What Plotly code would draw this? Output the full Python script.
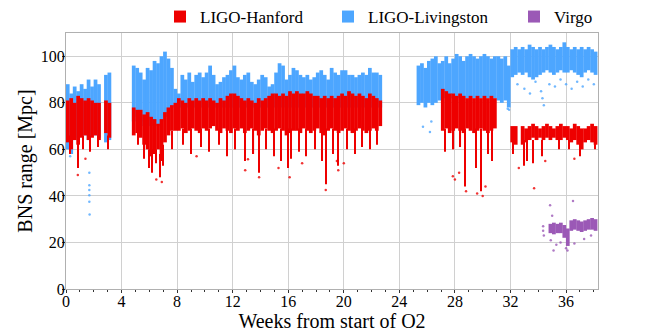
import plotly.graph_objects as go

# ---------------- data ----------------
# bins of 0.25 week; value = bin centre
N_BINS = 153
weeks = [0.125 + 0.25 * i for i in range(N_BINS)]
_ = None

hanford_high = (
    [81, 82, 80, 83, 82, 81, 82, 81, 80, 80] + [_] + [81, 80] + [_] * 6 +
    [78, 77, 77, 75, 76, 74, 73, 71, 73, 76, 78, 79, 80,
     82, 81, 80, 82, 81, 82, 81, 82, 81, 82, 81, 80, 82, 81, 83, 84, 84, 83, 82, 81,
     82, 81, 80, 82, 81, 82, 83, 84, 84, 83, 84, 83, 85, 84, 85, 84, 84, 85, 84, 83,
     83, 82, 83, 82, 83, 82, 83, 84, 83, 85, 84, 83, 84, 83, 82, 84, 83, 82, 81] +
    [_] * 17 +
    [86, 85, 84, 84, 83, 84, 83, 82, 83, 82, 83, 82, 83, 82, 83, 82] + [_] * 4 +
    [70, 70] + [_] +
    [70, 69, 70, 71, 70, 69, 70, 71, 70, 69, 70, 71, 70, 70, 69, 71, 70, 69, 69, 70, 71, 70]
)
hanford_low = (
    [63, 60, 64, 62, 65, 66, 64, 65, 66, 64] + [_] + [67, 65] + [_] * 6 +
    [66, 67, 65, 62, 60, 57, 58, 60, 55, 63, 66, 68, 68,
     68, 69, 67, 68, 69, 68, 67, 69, 68, 69, 70, 68, 67, 69, 68, 67, 69, 68, 69, 67,
     68, 69, 68, 66, 68, 69, 68, 67, 68, 69, 68, 66, 67, 68, 68, 67, 69, 68, 67, 68,
     69, 67, 66, 68, 69, 68, 67, 68, 69, 68, 67, 68, 69, 68, 67, 68, 69, 68, 70] +
    [_] * 17 +
    [68, 69, 67, 68, 69, 68, 67, 69, 68, 67, 68, 69, 68, 67, 68, 69] + [_] * 4 +
    [63, 62] + [_] +
    [62, 63, 64, 65, 64, 65, 64, 65, 64, 65, 64, 64, 65, 64, 63, 64, 62, 60, 63, 64, 63, 62]
)

livingston_high = (
    [88, 84, 87, 85, 88, 86, 90, 87, 90, 88] + [_] + [92, 93] + [_] * 6 +
    [96, 95, 93, 90, 95, 94, 98, 97, 100, 102, 99, 95, 86,
     84, 92, 90, 93, 89, 92, 93, 91, 93, 96, 92, 88, 89, 91, 92, 94, 96, 91, 90, 92,
     93, 89, 88, 90, 92, 91, 87, 88, 93, 97, 96, 90, 92, 95, 94, 92, 91, 92, 90, 91,
     93, 94, 92, 90, 95, 93, 92, 94, 94, 92, 92, 91, 92, 93, 92, 95, 93, 93, 92] +
    [_] * 10 +
    [96, 97, 95, 98, 99, 100, 97,
     98, 100, 97, 99, 101, 100, 98, 100, 101, 100, 99, 100, 101, 100, 99, 100,
     100, 99, 100, 96,
     103, 104, 103, 104, 103, 105, 104, 103, 104, 103, 104, 105, 104, 103, 104, 106,
     104, 103, 104, 103, 104, 103, 104, 103, 102]
)
livingston_low = (
    [60, 58, 64, 65, 66, 66, 64, 66, 66, 65] + [_] + [63, 64] + [_] * 6 +
    [72, 74, 72, 70, 72, 70, 72, 70, 72, 74, 76, 78, 79] + [78] * 59 +
    [_] * 10 +
    [79, 80, 78, 80, 79, 80, 81] + [82] * 16 + [81, 80, 81, 78] +
    [91, 92, 93, 92, 93, 91, 90, 91, 92, 93, 94, 93, 92, 93, 94, 93, 93, 94, 93, 92,
     91, 93, 94, 93, 92]
)

virgo_high = [_] * 139 + [28, 28.5, 28, 28.5, 27.5, 26, 29.5, 30, 29.5, 29, 29.5, 30, 30.5, 30]
virgo_low = [_] * 139 + [24, 23.5, 24, 24, 22, 18.5, 25, 25.5, 25, 24.5, 25, 25.5, 25.5, 25]

# thin vertical streaks of low range (week, lowest value, top of streak)
hanford_streak_week = [0.3, 0.85, 1.2, 1.7, 2.3, 3.0, 5.2, 5.6, 6.0, 6.2, 6.45, 6.8, 7.0, 7.6,
                       8.4, 9.0, 9.7, 10.3, 11.0, 11.6, 12.2, 12.9, 13.5, 13.9, 14.4, 15.0,
                       15.5, 16.0, 16.2, 16.8, 17.3, 17.9, 18.4, 18.7, 19.2, 19.6, 20.2, 20.8,
                       21.3, 21.9, 22.4, 27.3, 27.9, 28.4, 28.75, 29.5, 29.9, 30.4, 30.7,
                       32.2, 33.0, 33.2, 33.6, 34.3, 35.5, 36.2, 37.0, 38.1]
hanford_streak_low = [58, 52, 60, 59, 61, 60, 62, 56, 52, 50, 54, 48, 53, 60,
                      62, 58, 61, 59, 62, 57, 60, 55, 58, 50, 60, 57,
                      55, 52, 56, 59, 57, 60, 55, 45, 58, 53, 60, 58,
                      61, 60, 62, 59, 60, 61, 44, 52, 42, 58, 55,
                      58, 53, 55, 54, 57, 60, 60, 57, 60]
hanford_streak_top = [66, 66, 66, 66, 66, 66, 68, 64, 60, 60, 60, 58, 62, 68,
                      69, 69, 69, 69, 69, 69, 69, 69, 69, 69, 69, 69,
                      69, 69, 69, 69, 69, 69, 69, 69, 69, 69, 69, 69,
                      69, 69, 69, 69, 69, 69, 69, 69, 69, 69, 69,
                      64, 64, 64, 64, 64, 64, 64, 64, 64]

# isolated low points
hanford_out_week = [0.85, 1.4, 6.5, 6.9, 9.4, 12.9, 13.1, 13.9, 15.3, 16.1, 17.0, 18.7, 19.5,
                    19.6, 20.0, 27.85, 28.0, 28.3, 28.8, 29.6, 30.0, 30.2, 32.6, 33.7, 34.5,
                    36.6]
hanford_out_val = [49, 56, 47, 46, 57, 51, 55.8, 48, 52, 48, 54, 42.5, 55,
                   51, 54, 48.5, 47, 50, 42, 41, 40, 44, 52, 43.3, 55,
                   56]
livingston_out_week = [1.68, 1.68, 1.68, 1.68, 1.68, 1.7, 0.3, 25.7, 26.2, 26.3,
                       31.8, 31.9, 32.5, 33.0, 33.4, 33.8, 34.2, 34.3, 34.4, 34.8, 35.2,
                       35.6, 36.0, 36.4, 36.8, 37.2, 37.6, 38.0]
livingston_out_val = [50, 44.6, 42.5, 40.3, 37.5, 32, 57, 69.7, 67.5, 72,
                      77.5, 77, 88, 86, 84, 89, 85, 82, 79, 88, 87,
                      90, 88, 86, 89, 87, 90, 88]
virgo_out_week = [34.35, 34.35, 34.4, 34.9, 35.1, 35.3, 35.0, 35.6, 36.0, 36.1, 36.6, 37.3,
                  34.85, 36.5, 37.8]
virgo_out_val = [27, 25, 23, 21, 16.5, 19, 31.5, 20, 17.5, 16.5, 19.5, 21.5,
                 36, 37.8, 23]

# ---------------- styling ----------------
RED = "#ee0000"
BLUE = "#4da6ff"
PURPLE = "#9b59b6"
FONT = "Liberation Serif, Times New Roman, Times, serif"
BAR_W = 0.27


def span(lo, hi):
    return [None if (a is None or b is None) else b - a for a, b in zip(lo, hi)]


fig = go.Figure()


def add_band(name, lo, hi, color, legend):
    fig.add_trace(go.Bar(x=weeks, y=span(lo, hi), base=lo, width=BAR_W,
                         marker=dict(color=color, line=dict(width=0)),
                         name=name, legend=legend, hoverinfo="skip"))


def add_points(wk, val, color):
    fig.add_trace(go.Scatter(x=wk, y=val, mode="markers", showlegend=False,
                             marker=dict(color=color, size=2.5, opacity=0.8),
                             hoverinfo="skip"))


add_band("LIGO-Livingston", livingston_low, livingston_high, BLUE, "legend2")
add_points(livingston_out_week, livingston_out_val, BLUE)
add_band("LIGO-Hanford", hanford_low, hanford_high, RED, "legend")
fig.add_trace(go.Bar(x=hanford_streak_week, y=span(hanford_streak_low, hanford_streak_top),
                     base=hanford_streak_low, width=0.08, showlegend=False,
                     marker=dict(color=RED, line=dict(width=0)), hoverinfo="skip"))
add_points(hanford_out_week, hanford_out_val, RED)
add_band("Virgo", virgo_low, virgo_high, PURPLE, "legend3")
add_points(virgo_out_week, virgo_out_val, PURPLE)

axis_common = dict(showline=True, linecolor="#b0b0b0", linewidth=1, mirror=True,
                   showgrid=True, gridcolor="#d0d0d0", gridwidth=1, zeroline=False,
                   ticks="outside", tickcolor="#333333", ticklen=3, automargin=False,
                   tickfont=dict(family=FONT, size=16, color="black"))


def legend_at(xpx):
    return dict(orientation="h", x=(xpx - 66) / 532, xanchor="left",
                yref="container", y=1 - 17 / 332, yanchor="middle",
                font=dict(family=FONT, size=17, color="black"),
                bgcolor="rgba(0,0,0,0)", borderwidth=0)


fig.update_layout(
    width=664, height=332,
    margin=dict(l=66, r=66, t=33, b=43, autoexpand=False),
    plot_bgcolor="white", paper_bgcolor="white",
    barmode="overlay",
    font=dict(family=FONT, color="black"),
    showlegend=True,
    legend=legend_at(160),
    legend2=legend_at(328),
    legend3=legend_at(514),
    xaxis=dict(range=[0, 38.3], tickmode="linear", tick0=0, dtick=4,
               minor=dict(dtick=1, ticks="outside", ticklen=2, tickcolor="#333333",
                          showgrid=False),
               ticklabelstandoff=-5,
               title=dict(text="Weeks from start of O2", font=dict(family=FONT, size=20),
                          standoff=4),
               **axis_common),
    yaxis=dict(range=[0, 110], tickmode="linear", tick0=0, dtick=20,
               ticklabelstandoff=-6,
               title=dict(text="BNS range [Mpc]", font=dict(family=FONT, size=20),
                          standoff=2),
               **axis_common),
)

fig.write_html("out.html", config={"displayModeBar": False},
               post_script="document.body.style.margin='0';")
